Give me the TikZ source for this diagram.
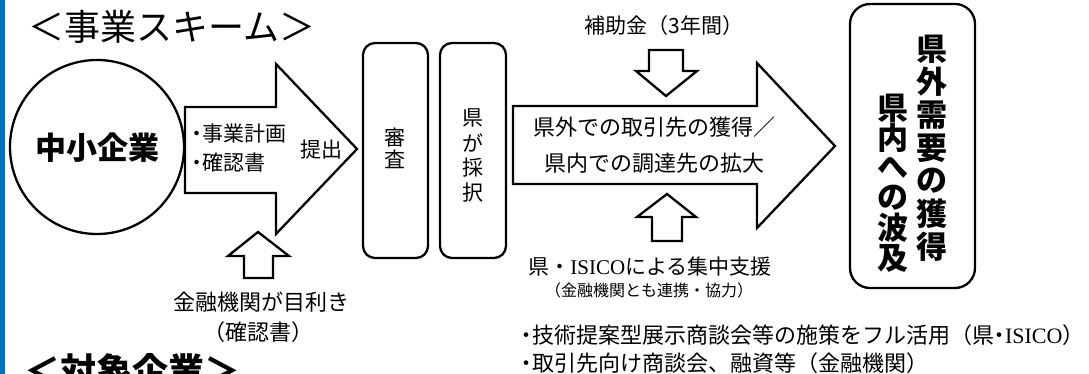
\documentclass[tikz,border=0pt]{standalone}
\usepackage{fontspec}
\setmainfont{Noto Sans CJK JP}
\newfontfamily\serifL{Liberation Serif}
\newcommand{\fs}[1]{\fontsize{#1}{#1}\selectfont}
\newcommand{\nd}{\makebox[0.5em][c]{・}}
\definecolor{barblue}{HTML}{0070C0}
\tikzset{
  outl/.style={draw=black, line width=2.3pt, line join=miter, fill=white},
  boxr/.style={draw=black, line width=2.3pt, rounded corners=12pt, fill=white},
  lbl/.style={inner sep=0pt, outer sep=0pt, text=black},
}
\begin{document}
\begin{tikzpicture}[x=1pt,y=-1pt]
\useasboundingbox (0,0) rectangle (1089,374);
\clip (0,0) rectangle (1089,374);
\fill[white] (0,0) rectangle (1089,374);
\fill[barblue] (0,0) rectangle (5,374);

% titles
\node[lbl, font=\fs{36}] (title1) at (172,27) {＜事業スキーム＞};
\node[lbl, font=\bfseries\fs{36}, anchor=west] (title2) at (24,371) {＜対象企業＞};

% SME circle
\draw[line width=2.3pt] (97,147) circle (87);
\node[lbl, font=\bfseries\fs{31}] (sme) at (97,148) {中小企業};

% arrow 1
\draw[outl] (185,107) -- (276,107) -- (276,64) -- (357,149) -- (276,234) -- (276,193) -- (185,193) -- cycle;
\node[lbl, font=\fs{21}, anchor=west, align=left] (plan) at (192,148)
  {\nd 事業計画\\[8pt]\nd 確認書};
\node[lbl, font=\fs{21}] (teishutsu) at (321,150) {提出};

% up arrow (financial institutions)
\draw[outl] (258,232) -- (289,256) -- (273,256) -- (273,278) -- (244,278) -- (244,256) -- (228,256) -- cycle;
\node[lbl, font=\fs{22}] (fin1) at (261,302) {金融機関が目利き};
\node[lbl, font=\fs{22}] (fin2) at (258,332) {（確認書）};

% review boxes
\draw[boxr] (363,43) rectangle (428,258);
\node[lbl, font=\fs{21}] (shin) at (395,137) {審};
\node[lbl, font=\fs{21}] (sa) at (395,159) {査};
\draw[boxr] (440,43) rectangle (506,258);
\foreach \c [count=\i] in {県,が,採,択}
  \node[lbl, font=\fs{21}] (ken\i) at (473,{118+(\i-1)*25}) {\c};

% arrow 2
\draw[outl] (513,106) -- (757,106) -- (757,63) -- (835,146) -- (757,228) -- (757,184) -- (513,184) -- cycle;
\node[lbl, font=\fontsize{22}{36}\selectfont, align=center] (act) at (654,145)
  {県外での取引先の獲得／\\県内での調達先の拡大};

% subsidy down arrow
\node[lbl, font=\fs{21}] (hojo) at (664,26) {補助金（3年間）};
\draw[outl] (649,50) -- (683,50) -- (683,71) -- (697,71) -- (666,96) -- (636,71) -- (649,71) -- cycle;

% support up arrow
\draw[outl] (667,194) -- (696,217) -- (682,217) -- (682,241) -- (652,241) -- (652,217) -- (637,217) -- cycle;
\node[lbl, font=\fs{21}] (sup1) at (650,267) {県・{\serifL ISICO}による集中支援};
\node[lbl, font=\fs{16}] (sup2) at (649,290) {（金融機関とも連携・協力）};

% bullets
\node[lbl, font=\fs{22}, anchor=west] (b1) at (521,335) {\nd 技術提案型展示商談会等の施策をフル活用（県\nd{\serifL ISICO}）};
\node[lbl, font=\fs{22}, anchor=west] (b2) at (521,363) {\nd 取引先向け商談会、融資等（金融機関）};

% result box
\draw[boxr, rounded corners=20pt] (850,4) rectangle (975,288);
\foreach \c [count=\i] in {県,外,需,要,の,獲,得}
  \node[lbl, font=\bfseries\fs{31}] (ra\i) at (932,{49+(\i-1)*33}) {\c};
\foreach \c [count=\i] in {県,内,へ,の,波,及}
  \node[lbl, font=\bfseries\fs{31}] (rb\i) at (893,{108+(\i-1)*30}) {\c};
\end{tikzpicture}
\end{document}
